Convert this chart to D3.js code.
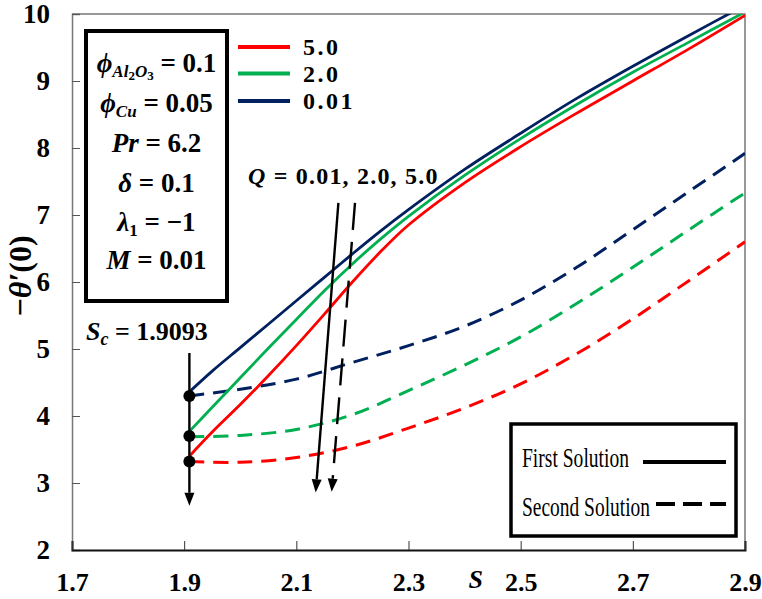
<!DOCTYPE html>
<html><head><meta charset="utf-8">
<script src="https://cdn.jsdelivr.net/npm/d3@7"></script>
<style>body{margin:0;background:#fff}svg{display:block}</style>
</head><body><svg id="c" width="762" height="599"></svg>
<script>
// ---- data ----
const sFirst = [1.9093,1.95,2.0,2.05,2.1,2.15,2.2,2.25,2.3,2.4,2.5,2.6,2.7,2.8,2.9];
const firstQ001 = [4.36,4.67,5.02,5.37,5.72,6.07,6.42,6.76,7.08,7.68,8.22,8.74,9.22,9.68,10.13];
const firstQ2   = [3.77,4.13,4.57,5.01,5.44,5.87,6.27,6.64,6.98,7.59,8.14,8.65,9.13,9.58,10.03];
const firstQ5   = [3.40,3.76,4.17,4.60,5.05,5.52,6.00,6.45,6.85,7.48,8.02,8.52,9.00,9.48,9.98];
const sSecond = [1.9093,2.0,2.1,2.2,2.3,2.4,2.5,2.6,2.7,2.8,2.9];
const secondQ001 = [4.30,4.40,4.55,4.80,5.05,5.34,5.73,6.22,6.78,7.35,7.92];
const secondQ2   = [3.69,3.71,3.80,4.02,4.38,4.76,5.18,5.68,6.22,6.78,7.33];
const secondQ5   = [3.32,3.31,3.38,3.55,3.82,4.12,4.48,4.93,5.45,6.02,6.60];
const turningValues = [4.30,3.70,3.32];
const Sc = 1.9093;
const qLabels = ["5.0","2.0","0.01"];
const qColors = ["#ff0000","#00b050","#002060"];
const xTicks = [1.7,1.9,2.1,2.3,2.5,2.7,2.9];
const yTicks = [2,3,4,5,6,7,8,9,10];

// ---- layout ----
const svg = d3.select("#c");
const X0=72, X1=745, Y0=550, Y1=14;
const x = d3.scaleLinear().domain([1.7,2.9]).range([X0,X1]);
const y = d3.scaleLinear().domain([2,10]).range([Y0,Y1]);
const serif = "'Liberation Serif','Times New Roman',serif";

svg.append("defs").append("clipPath").attr("id","clip")
  .append("rect").attr("x",X0).attr("y",Y1).attr("width",X1-X0).attr("height",Y0-Y1);

// frame
svg.append("path").attr("d",`M${X0},${Y1}H${X1}V${Y0}`).attr("fill","none").attr("stroke","#777").attr("stroke-width",1.5);

// axes
const yAxis = d3.axisLeft(y).tickValues(yTicks).tickSize(-8).tickPadding(22).tickFormat(d3.format("d"));
const gy = svg.append("g").attr("transform",`translate(${X0},0)`).call(yAxis);
gy.select(".domain").attr("stroke","#777").attr("stroke-width",1.5);
gy.selectAll(".tick line").attr("stroke","#555");
gy.selectAll("text").attr("font-family",serif).attr("font-weight","bold").attr("font-size",27).attr("fill","#000");

const xAxis = d3.axisBottom(x).tickValues(xTicks).tickSize(-9).tickPadding(23).tickFormat(d3.format(".1f"));
const gx = svg.append("g").attr("transform",`translate(0,${Y0})`).call(xAxis);
gx.select(".domain").attr("stroke","#111").attr("stroke-width",2);
gx.selectAll(".tick line").attr("stroke","#333");
gx.selectAll("text").attr("font-family",serif).attr("font-weight","bold").attr("font-size",26).attr("fill","#000");

// axis titles
svg.append("text").attr("x",x(2.42)).attr("y",588).attr("text-anchor","middle")
  .attr("font-family",serif).attr("font-style","italic").attr("font-weight","bold").attr("font-size",26).text("S");
svg.append("text").attr("transform","translate(31,276) rotate(-90)").attr("text-anchor","middle")
  .attr("font-family",serif).attr("font-weight","bold").attr("font-size",32)
  .call(t=>{t.append("tspan").text("−");t.append("tspan").attr("font-style","italic").text("θ′");t.append("tspan").text("(0)");});

// curves
const plot = svg.append("g").attr("clip-path","url(#clip)");
const line = d3.line().x(d=>x(d[0])).y(d=>y(d[1])).curve(d3.curveCatmullRom.alpha(0.5));
const second = [secondQ5, secondQ2, secondQ001];
const first = [firstQ5, firstQ2, firstQ001];
second.forEach((vals,i)=>{
  plot.append("path").attr("d",line(sSecond.map((s,j)=>[s,vals[j]])))
    .attr("fill","none").attr("stroke",qColors[i]).attr("stroke-width",3).attr("stroke-dasharray","15,9");
});
first.forEach((vals,i)=>{
  plot.append("path").attr("d",line(sFirst.map((s,j)=>[s,vals[j]])))
    .attr("fill","none").attr("stroke",qColors[i]).attr("stroke-width",2.8);
});

// arrows
function arrow(x1,y1,x2,y2,dash){
  const g = svg.append("g");
  const ang = Math.atan2(y2-y1,x2-x1), L=13, W=5;
  const bx = x2-L*Math.cos(ang), by = y2-L*Math.sin(ang);
  g.append("line").attr("x1",x1).attr("y1",y1).attr("x2",bx).attr("y2",by)
    .attr("stroke","#000").attr("stroke-width",2.4).attr("stroke-dasharray",dash||null);
  const px=-Math.sin(ang)*W, py=Math.cos(ang)*W;
  g.append("path").attr("d",`M${x2},${y2}L${bx+px},${by+py}L${bx-px},${by-py}Z`).attr("fill","#000");
}
arrow(x(Sc),y(4.94),x(Sc),y(2.66));
svg.selectAll(".dot").data(turningValues).join("circle").attr("cx",x(Sc)).attr("cy",d=>y(d)).attr("r",6).attr("fill","#000");
arrow(x(2.175),y(7.18),x(2.1345),y(2.86));
arrow(x(2.2046),y(7.18),x(2.163),y(2.87),"27,12");

// annotations
svg.append("text").attr("x",86).attr("y",340).attr("font-family",serif).attr("font-weight","bold").attr("font-size",26)
  .call(t=>{t.append("tspan").attr("font-style","italic").text("S");
    t.append("tspan").attr("font-style","italic").attr("font-size",18).attr("dy",5).text("c");
    t.append("tspan").attr("dy",-5).text(" = 1.9093");});
svg.append("text").attr("x",248).attr("y",184).attr("font-family",serif).attr("font-weight","bold").attr("font-size",24)
  .attr("letter-spacing",1.2)
  .call(t=>{t.append("tspan").attr("font-style","italic").text("Q");t.append("tspan").text("  = 0.01, 2.0, 5.0");});

// parameter box
svg.append("rect").attr("x",86).attr("y",31).attr("width",141).attr("height",270)
  .attr("fill","#fff").attr("stroke","#000").attr("stroke-width",4);
const pg = svg.append("g").attr("font-family",serif).attr("font-weight","bold").attr("font-size",27).attr("text-anchor","middle");
const cx = 156.5;
const pLines = [72,112,152,192,231,269];
pg.append("text").attr("x",cx).attr("y",pLines[0]).call(t=>{
  t.append("tspan").attr("font-style","italic").text("ϕ");
  t.append("tspan").attr("font-style","italic").attr("font-size",17).attr("dy",5).text("Al");
  t.append("tspan").attr("font-size",13).attr("dy",3).text("2");
  t.append("tspan").attr("font-style","italic").attr("font-size",17).attr("dy",-3).text("O");
  t.append("tspan").attr("font-size",13).attr("dy",3).text("3");
  t.append("tspan").attr("dy",-8).text(" = 0.1");});
pg.append("text").attr("x",cx).attr("y",pLines[1]).call(t=>{
  t.append("tspan").attr("font-style","italic").text("ϕ");
  t.append("tspan").attr("font-style","italic").attr("font-size",17).attr("dy",5).text("Cu");
  t.append("tspan").attr("dy",-5).text(" = 0.05");});
pg.append("text").attr("x",cx).attr("y",pLines[2]).call(t=>{
  t.append("tspan").attr("font-style","italic").text("Pr");t.append("tspan").text(" = 6.2");});
pg.append("text").attr("x",cx).attr("y",pLines[3]).call(t=>{
  t.append("tspan").attr("font-style","italic").text("δ");t.append("tspan").text(" = 0.1");});
pg.append("text").attr("x",cx).attr("y",pLines[4]).call(t=>{
  t.append("tspan").attr("font-style","italic").text("λ");
  t.append("tspan").attr("font-size",17).attr("dy",5).text("1");
  t.append("tspan").attr("dy",-5).text(" =  −1");});
pg.append("text").attr("x",cx).attr("y",pLines[5]).call(t=>{
  t.append("tspan").attr("font-style","italic").text("M");t.append("tspan").text(" =  0.01");});

// Q legend
const lg = svg.append("g");
qLabels.forEach((lab,i)=>{
  const yy = [47,73.5,101][i];
  lg.append("line").attr("x1",238).attr("x2",290).attr("y1",yy).attr("y2",yy).attr("stroke",qColors[i]).attr("stroke-width",4);
  lg.append("text").attr("x",303).attr("y",yy+8).attr("font-family",serif).attr("font-weight","bold").attr("font-size",24)
    .attr("letter-spacing",2.5).text(lab);
});

// solution legend
svg.append("rect").attr("x",511).attr("y",424).attr("width",225).attr("height",112)
  .attr("fill","#fff").attr("stroke","#000").attr("stroke-width",3.5);
svg.append("text").attr("x",522).attr("y",467).attr("font-family",serif).attr("font-size",27)
  .attr("textLength",107).attr("lengthAdjust","spacingAndGlyphs").text("First Solution");
svg.append("text").attr("x",522).attr("y",516).attr("font-family",serif).attr("font-size",27)
  .attr("textLength",128).attr("lengthAdjust","spacingAndGlyphs").text("Second Solution");
svg.append("line").attr("x1",643).attr("x2",726).attr("y1",462).attr("y2",462).attr("stroke","#000").attr("stroke-width",4);
svg.append("line").attr("x1",656).attr("x2",726).attr("y1",504).attr("y2",504).attr("stroke","#000").attr("stroke-width",4).attr("stroke-dasharray","19,8");
</script></body></html>
